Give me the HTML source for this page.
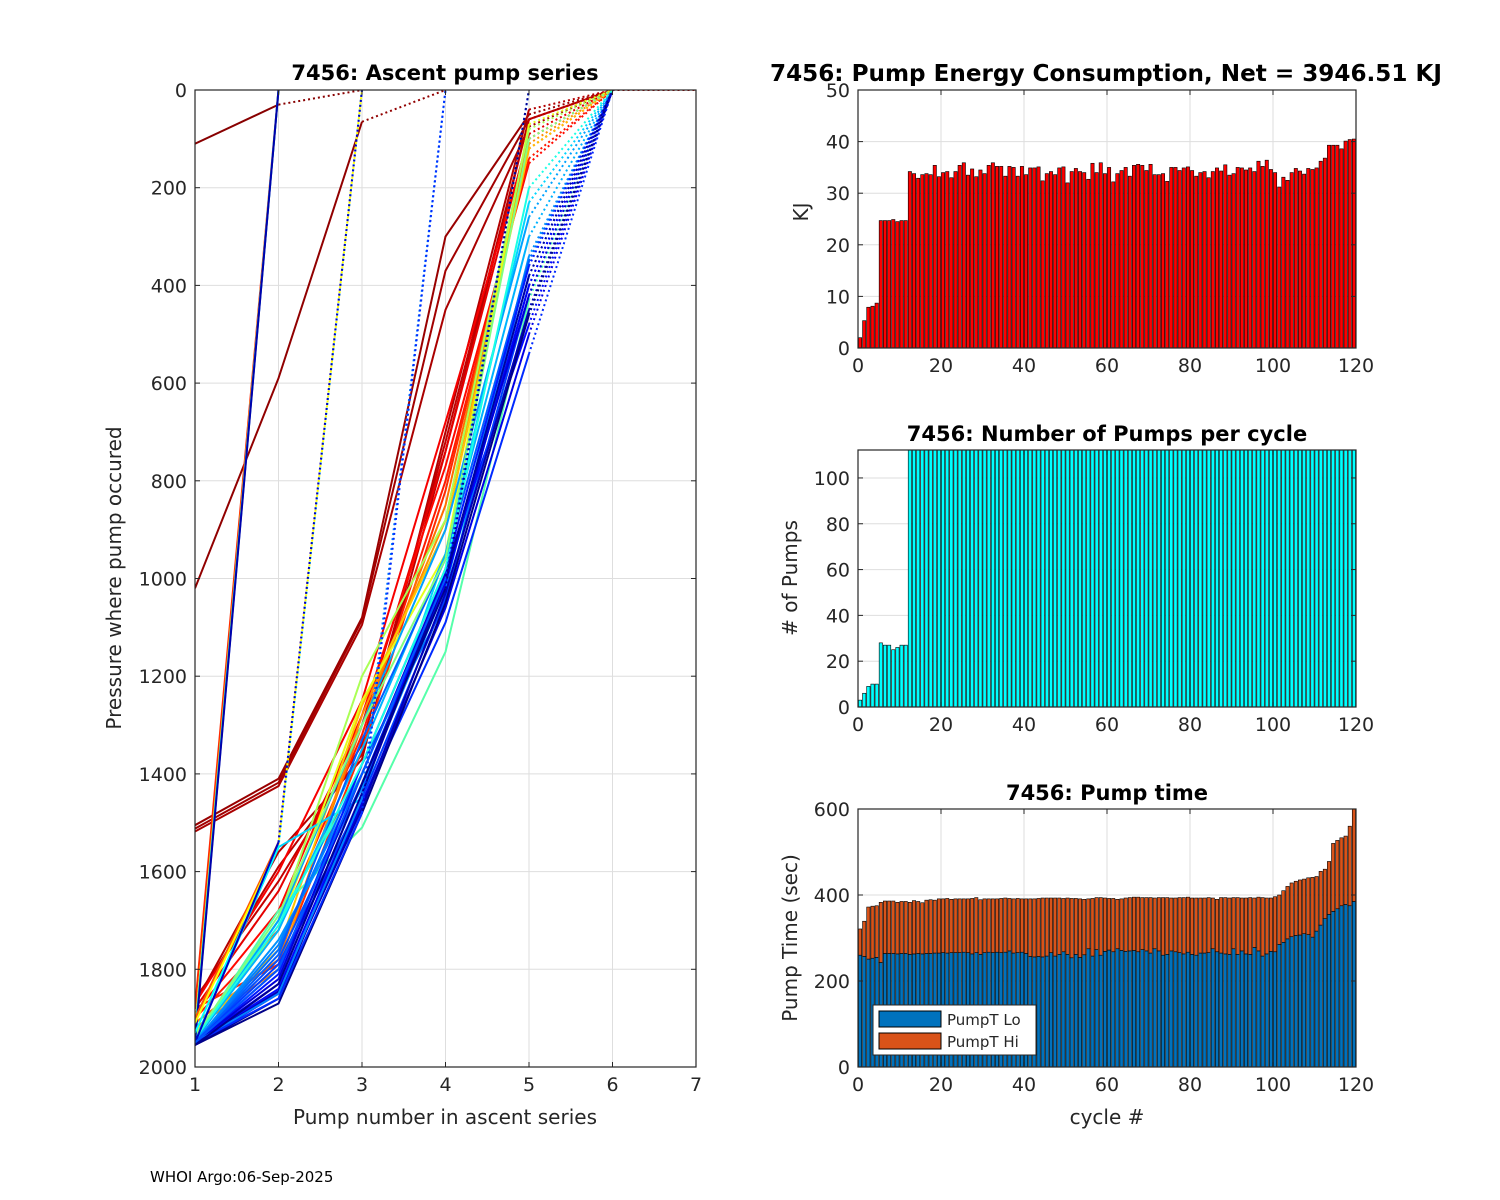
<!DOCTYPE html>
<html><head><meta charset="utf-8"><style>
html,body{margin:0;padding:0;background:#fff;}
svg{display:block;font-family:"DejaVu Sans","Liberation Sans",sans-serif;}
.tk{font-size:19px;fill:#262626;}
.lb{font-size:20px;fill:#262626;}
.tt{font-size:21px;font-weight:bold;fill:#000;}
</style></head><body>
<svg id="fig" width="1500" height="1200" viewBox="0 0 1500 1200" xmlns="http://www.w3.org/2000/svg">
<rect width="1500" height="1200" fill="#fff"/>
<text x="150" y="1182" font-size="15" fill="#000">WHOI Argo:06-Sep-2025</text>
</svg>
<script>
// ---------- data ----------
const energyKJ = [2,5.3,7.9,8.1,8.7,24.7,24.7,24.7,24.9,24.5,24.7,24.7,34.2,33.8,32.9,33.6,33.8,33.6,35.4,33.2,34,34.2,33,34.2,35.4,35.9,33.5,34.7,33.2,34.5,33.8,35.4,35.9,35.2,35.2,33.3,35.2,35,33.3,35.2,33.6,34.9,34.9,35.1,32.4,33.8,34.2,33.6,34.9,35.1,32,34.2,34.8,34.2,34,32.7,35.8,34,35.9,33.8,35,32.2,33.8,34.4,35,33.3,35.4,35.6,35.4,34.4,35.6,33.6,33.6,33.8,32.3,35,35,34.4,34.9,35.1,34.4,33.3,34,34.2,33,34.2,34.9,34.3,35.5,33.5,33.8,35,34.9,34.5,34.9,34.2,36.2,35.2,36.4,34.6,34,31.2,33.1,32.5,34,34.8,34.3,33.7,34.8,34.6,34.9,36.2,36.8,39.3,39.3,39.3,38.6,40.1,40.4,40.5];
const pumpCounts = [3,6,9,10,10,28,27,27,25,26,27,27,150,150,150,150,150,150,150,150,150,150,150,150,150,150,150,150,150,150,150,150,150,150,150,150,150,150,150,150,150,150,150,150,150,150,150,150,150,150,150,150,150,150,150,150,150,150,150,150,150,150,150,150,150,150,150,150,150,150,150,150,150,150,150,150,150,150,150,150,150,150,150,150,150,150,150,150,150,150,150,150,150,150,150,150,150,150,150,150,150,150,150,150,150,150,150,150,150,150,150,150,150,150,150,150,150,150,150,150];
const pumpTLo = [260,257,251,253,255,243,264,264,264,263,264,264,262,263,264,263,264,264,265,265,266,265,266,266,266,267,266,263,266,262,266,267,266,267,266,267,270,265,266,267,264,257,256,257,256,258,266,258,262,268,262,254,262,255,261,275,258,273,260,269,272,268,275,271,269,270,271,268,273,270,265,275,270,260,262,270,268,266,263,267,262,260,265,265,266,275,268,265,263,262,275,262,270,263,262,278,270,258,263,269,268,285,290,298,303,306,307,310,308,302,316,330,345,355,362,368,375,378,375,385];
const pumpTTotal = [321,339,372,374,375,383,386,386,386,383,385,385,383,387,385,382,388,389,388,391,391,392,390,391,391,391,391,392,394,389,391,391,391,391,392,393,392,391,392,391,391,391,391,392,393,393,393,393,393,392,393,392,392,391,390,391,392,394,394,393,392,392,390,391,393,394,395,395,394,394,394,393,394,394,394,393,393,394,394,395,393,393,393,393,394,393,390,394,394,393,394,394,393,393,394,393,395,394,393,393,396,400,410,420,428,432,435,437,440,441,443,455,460,478,520,527,533,537,560,600];
const profileCycles = [1,2,3,4,5,6,8,7,12,14,16,18,20,28,32,38,48,55,65,70,80,88,92,96,100,104,
 84,86,90,94,98,102,106,108,110,113,116,119,60,72,
 20,45,70,90,115,
 25,45,75,112,
 90,100,95,118];
const profilePressures = [
 [110,30,0],[1020,590,65,0],[1505,1410,1080,300,50,0],[1512,1418,1085,370,60,0],[1518,1425,1095,450,75,0],
 [1870,1560,1370,700,40,0],[1860,1620,1340,720,60,0],[1870,1590,1360,740,60,0,0],
 [1880,1640,1300,740,90,0],[1870,1600,1250,680,100,0],[1890,1680,1280,770,150,0],[1900,1720,1320,800,140,0],[1880,1790,1350,820,120,0],
 [1910,1780,1300,850,100,0],[1920,1800,1280,880,110,0],[1930,1760,1260,900,120,0],
 [1930,1720,1250,950,70,0],[1935,1700,1200,880,80,0],
 [1940,1680,1510,1150,430,0],[1940,1700,1400,1000,460,0],[1945,1550,1450,950,230,0],
 [1950,1740,1430,1020,340,0],[1950,1760,1380,1050,350,0],[1950,1780,1420,1000,400,0],[1952,1800,1460,1090,540,0],[1950,1840,1440,980,480,0],
 [1945,1720,1350,950,300,0],[1948,1700,1300,900,260,0],[1950,1750,1400,1000,380,0],[1950,1770,1330,960,350,0],[1950,1790,1450,1040,420,0],
 [1952,1810,1380,980,360,0],[1950,1830,1420,1010,400,0],[1953,1850,1460,1060,500,0],[1950,1820,1400,990,420,0],[1952,1845,1470,1030,450,0],
 [1955,1860,1440,1000,380,0],[1955,1870,1480,1050,460,0],[1938,1690,1300,960,100,0],[1942,1710,1380,980,200,0],
 [1880,0],[1925,0],[1935,0],[1945,0],[1950,0],
 [1900,1540,0],[1910,1545,0],[1930,1550,0],[1950,1540,0],
 [1950,1850,1450,0],[1950,1860,1480,0],
 [1950,1800,1400,1000,0],[1955,1830,1420,1020,0]
];
const leftYTicks = [0,200,400,600,800,1000,1200,1400,1600,1800,2000];
const leftXTicks = [1,2,3,4,5,6,7];
const cycleTicks = [0,20,40,60,80,100,120];
const energyTicks = [0,10,20,30,40,50];
const pumpTicks = [0,20,40,60,80,100];
const timeTicks = [0,200,400,600];

// ---------- helpers ----------
const NS='http://www.w3.org/2000/svg';
const svg=document.getElementById('fig');
function mk(tag,attrs,parent){const e=document.createElementNS(NS,tag);for(const k in attrs)e.setAttribute(k,attrs[k]);(parent||svg).appendChild(e);return e;}
function txt(x,y,s,cls,anchor,parent){const t=mk('text',{x:x,y:y,class:cls,'text-anchor':anchor||'middle'},parent);t.textContent=s;return t;}
function jet(t){const c=v=>Math.max(0,Math.min(1,v));const r=c(1.5-Math.abs(4*t-3)),g=c(1.5-Math.abs(4*t-2)),b=c(1.5-Math.abs(4*t-1));return 'rgb('+Math.round(r*255)+','+Math.round(g*255)+','+Math.round(b*255)+')';}
function axes(L,R,T,B,xmin,xmax,ymin,ymax,rev,name){
  const sx=v=>L+(v-xmin)/(xmax-xmin)*(R-L);
  const sy=rev?(v=>T+(v-ymin)/(ymax-ymin)*(B-T)):(v=>B-(v-ymin)/(ymax-ymin)*(B-T));
  const g=mk('g',{});
  
  
  const clipId='clip-'+name;
  const cp=mk('clipPath',{id:clipId},g);mk('rect',{x:L,y:T,width:R-L,height:B-T},cp);
  return {sx,sy,g,L,R,T,B,clip:'url(#'+clipId+')'};
}
function grid(ax,xt,yt){
  const gg=mk('g',{},ax.g);
  
  
  xt.forEach(v=>{const x=ax.sx(v);mk('line',{x1:x,x2:x,y1:ax.T,y2:ax.B,stroke:'#dedede','stroke-width':1},gg);});
  yt.forEach(v=>{const y=ax.sy(v);mk('line',{x1:ax.L,x2:ax.R,y1:y,y2:y,stroke:'#dedede','stroke-width':1},gg);});
}
function frame(ax,xt,yt){
  const g=mk('g',{},ax.g);
  
  
  mk('rect',{x:ax.L,y:ax.T,width:ax.R-ax.L,height:ax.B-ax.T,fill:'none',stroke:'#262626','stroke-width':1.2},g);
  xt.forEach(v=>{const x=ax.sx(v);
    mk('line',{x1:x,x2:x,y1:ax.B,y2:ax.B-5,stroke:'#262626'},g);
    mk('line',{x1:x,x2:x,y1:ax.T,y2:ax.T+5,stroke:'#262626'},g);
    const t=txt(x,ax.B+24,String(v),'tk','middle',g);
    
    });
  yt.forEach(v=>{const y=ax.sy(v);
    mk('line',{x1:ax.L,x2:ax.L+5,y1:y,y2:y,stroke:'#262626'},g);
    mk('line',{x1:ax.R,x2:ax.R-5,y1:y,y2:y,stroke:'#262626'},g);
    const t=txt(ax.L-8,y+7,String(v),'tk','end',g);
    
    });
}

// ---------- left: ascent pump series ----------
const A=axes(195,696,90,1067,1,7,0,2000,true,'ascent-pump-chart');
grid(A,leftXTicks,leftYTicks);
const lg=mk('g',{'clip-path':A.clip},A.g);


profilePressures.forEach((p,k)=>{
  const col=jet(1-profileCycles[k]/120);
  const n=p.length;
  const solidPts=[];
  const lastSolid = n===2 ? n : n-1;
  for(let i=0;i<lastSolid;i++) solidPts.push(A.sx(i+1)+','+A.sy(p[i]));
  if(solidPts.length>1){
    const pl=mk('polyline',{points:solidPts.join(' '),fill:'none',stroke:col,'stroke-width':2},lg);
    
    
  }
  if(n>2){
    const d=mk('line',{x1:A.sx(n-1),y1:A.sy(p[n-2]),x2:A.sx(n),y2:A.sy(p[n-1]),stroke:col,'stroke-width':2,'stroke-dasharray':'2 3'},lg);
    
    
  }
});
frame(A,leftXTicks,leftYTicks);
let t;
t=txt(445,80,'7456: Ascent pump series','tt');
t=txt(445,1124,'Pump number in ascent series','lb');
t=txt(0,0,'Pressure where pump occured','lb');t.setAttribute('transform','translate(121,578) rotate(-90)');

// ---------- bar helper ----------
function bars(ax,vals,fill,name,base){
  const bg=mk('g',{'clip-path':ax.clip},ax.g);
  
  
  vals.forEach((v,i)=>{
    const b0=base?base[i]:0;
    const x0=ax.sx(i+0.1),x1=ax.sx(i+0.9);
    const y0=ax.sy(b0+v),y1=ax.sy(b0);
    const r=mk('rect',{x:x0,y:y0,width:x1-x0,height:y1-y0,fill:fill,stroke:'#000','stroke-width':0.6},bg);
    
    
  });
}

// ---------- energy ----------
const E=axes(858,1356,90,348,0,120,0,50,false,'energy-chart');
grid(E,cycleTicks,energyTicks);
bars(E,energyKJ,'#ff0000','energy-bars');
frame(E,cycleTicks,energyTicks);
t=txt(1106,81,'7456: Pump Energy Consumption,  Net = 3946.51 KJ','tt');t.setAttribute('textLength','672');t.setAttribute('lengthAdjust','spacingAndGlyphs');t.style.fontSize='23px';
t=txt(0,0,'KJ','lb');t.setAttribute('transform','translate(808,212) rotate(-90)');

// ---------- pumps ----------
const P=axes(858,1356,450,707,0,120,0,112.2,false,'pumps-chart');
grid(P,cycleTicks,pumpTicks);
bars(P,pumpCounts,'#00ffff','pump-count-bars');
frame(P,cycleTicks,pumpTicks);
t=txt(1107,441,'7456: Number of Pumps per cycle','tt');
t=txt(0,0,'# of Pumps','lb');t.setAttribute('transform','translate(797,578) rotate(-90)');

// ---------- pump time ----------
const T=axes(858,1356,809,1067,0,120,0,600,false,'pump-time-chart');
grid(T,cycleTicks,timeTicks);
const pumpTHi=pumpTTotal.map((v,i)=>v-pumpTLo[i]);
bars(T,pumpTLo,'#0072bd','pumpt-lo-bars');
bars(T,pumpTHi,'#d95319','pumpt-hi-bars',pumpTLo);
frame(T,cycleTicks,timeTicks);
t=txt(1107,800,'7456: Pump time','tt');
t=txt(0,0,'Pump Time (sec)','lb');t.setAttribute('transform','translate(797,938) rotate(-90)');
t=txt(1107,1124,'cycle #','lb');
const leg=mk('g',{});


mk('rect',{x:873,y:1005,width:163,height:50,fill:'#fff',stroke:'#262626','stroke-width':1},leg);
const l1=mk('rect',{x:879,y:1011,width:62,height:16,fill:'#0072bd',stroke:'#000'},leg);


const l2=mk('rect',{x:879,y:1033,width:62,height:16,fill:'#d95319',stroke:'#000'},leg);


t=txt(947,1025,'PumpT Lo','tk','start',leg);t.style.fontSize='15px';
t=txt(947,1047,'PumpT Hi','tk','start',leg);t.style.fontSize='15px';
</script>
</body></html>
